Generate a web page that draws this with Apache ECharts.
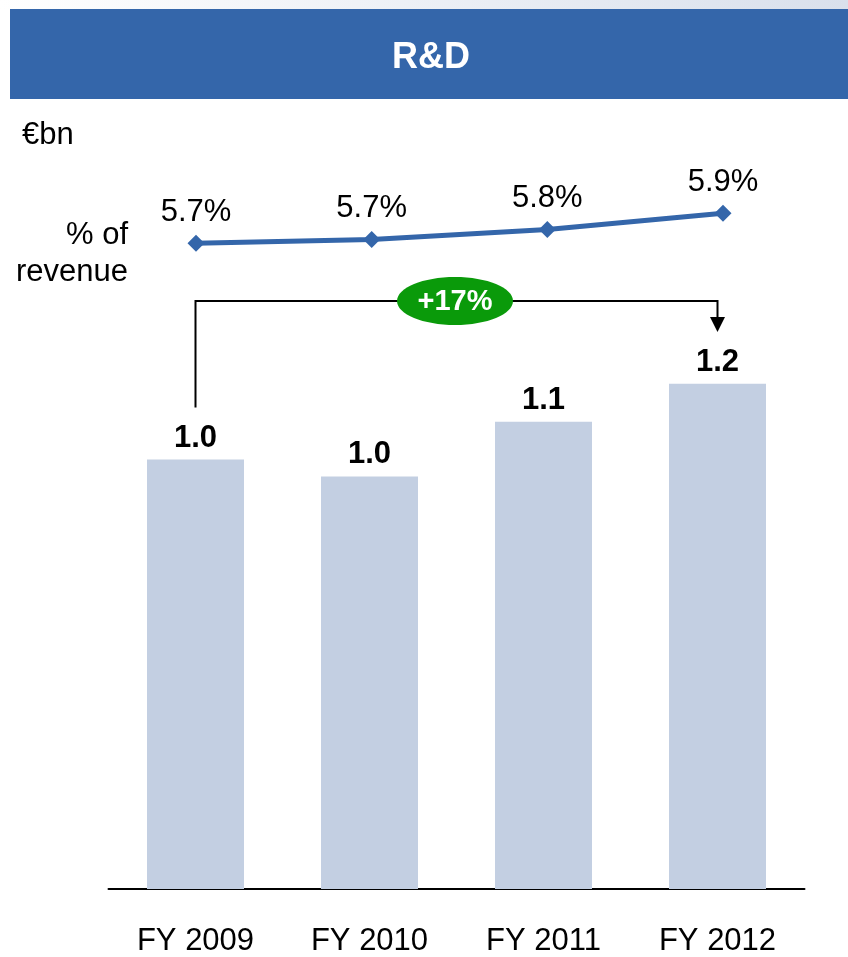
<!DOCTYPE html>
<html><head><meta charset="utf-8">
<script src="https://cdn.jsdelivr.net/npm/echarts@6/dist/echarts.min.js"></script>
<style>html,body{margin:0;padding:0;background:#fff}#c{width:848px;height:957px}</style>
</head><body><div id="c"></div>
<script>
const categories = ['FY 2009', 'FY 2010', 'FY 2011', 'FY 2012'];
const rdSpend = [1.02, 0.98, 1.11, 1.20];
const pctOfRevenue = [5.67, 5.70, 5.78, 5.91];
const growthLabel = '+17%';
const titleText = 'R&D';
const unitText = '€bn';
const lineLabelText = '% of\nrevenue';

const FONT = '"Liberation Sans", Arial, sans-serif';
const BLUE = '#3466AA';

const chart = echarts.init(document.getElementById('c'), null, {renderer: 'canvas'});

const option = {
  animation: false,
  backgroundColor: '#fff',
  textStyle: {fontFamily: FONT},
  grid: [
    {left: 108.5, right: 848 - 804.5, top: 47, bottom: 68, containLabel: false},
    {left: 196, width: 527, top: 177, height: 100, containLabel: false}
  ],
  xAxis: [
    {
      type: 'category', gridIndex: 0, data: categories,
      axisLine: {lineStyle: {color: '#000', width: 2}},
      axisTick: {show: false},
      axisLabel: {color: '#000', fontSize: 31, fontFamily: FONT, margin: 37}
    },
    {
      type: 'category', gridIndex: 1, data: categories, boundaryGap: false,
      show: false
    }
  ],
  yAxis: [
    {type: 'value', gridIndex: 0, min: 0, max: 2, show: false, splitLine: {show: false}},
    {type: 'value', gridIndex: 1, min: 5.4, max: 6.2, show: false, splitLine: {show: false}}
  ],
  series: [
    {
      type: 'bar', xAxisIndex: 0, yAxisIndex: 0, data: rdSpend,
      barWidth: 97,
      itemStyle: {color: '#C3CFE2'},
      label: {
        show: true, position: 'top', distance: 6,
        formatter: p => p.value.toFixed(1),
        color: '#000', fontSize: 31, fontWeight: 'bold', fontFamily: FONT
      }
    },
    {
      type: 'line', xAxisIndex: 1, yAxisIndex: 1, data: pctOfRevenue,
      symbol: 'diamond', symbolSize: 17,
      lineStyle: {color: BLUE, width: 5},
      itemStyle: {color: BLUE},
      label: {
        show: true, position: 'top', distance: 7,
        formatter: p => p.value.toFixed(1) + '%',
        color: '#000', fontSize: 31, fontFamily: FONT
      }
    }
  ]
};
chart.setOption(option);

const x1 = chart.convertToPixel({xAxisIndex: 0}, 0);
const x4 = chart.convertToPixel({xAxisIndex: 0}, 3);
const y1 = chart.convertToPixel({yAxisIndex: 0}, rdSpend[0]);
const yBracket = 301;
const midX = (x1 + x4) / 2;

chart.setOption({
  graphic: [
    {type: 'rect', shape: {x: 0, y: 0, width: 848, height: 9},
     style: {fill: new echarts.graphic.LinearGradient(0, 0, 1, 0, [{offset: 0, color: '#ffffff'}, {offset: 1, color: '#d9e0ec'}])}},
    {type: 'rect', shape: {x: 10, y: 9, width: 838, height: 90}, style: {fill: BLUE}},
    {type: 'text', x: 431, y: 58, style: {text: titleText, fill: '#fff', font: 'bold 36px ' + FONT, textAlign: 'center', textVerticalAlign: 'middle'}},
    {type: 'text', x: 22, y: 135, style: {text: unitText, fill: '#000', font: '31px ' + FONT, textAlign: 'left', textVerticalAlign: 'middle'}},
    {type: 'text', x: 128, y: 254, style: {text: lineLabelText, fill: '#000', font: '31px ' + FONT, textAlign: 'right', textVerticalAlign: 'middle', lineHeight: 37}},
    {type: 'polyline', shape: {points: [[x1, y1 - 52], [x1, yBracket], [x4, yBracket], [x4, 318]]},
     style: {stroke: '#000', lineWidth: 2, fill: null}},
    {type: 'polygon', shape: {points: [[x4 - 7.5, 317], [x4 + 7.5, 317], [x4, 332]]}, style: {fill: '#000'}},
    {type: 'ellipse', shape: {cx: midX - 1.5, cy: yBracket, rx: 58, ry: 24}, style: {fill: '#0A9A0A'}},
    {type: 'text', x: midX - 1.5, y: yBracket + 1, style: {text: growthLabel, fill: '#fff', font: 'bold 29px ' + FONT, textAlign: 'center', textVerticalAlign: 'middle'}}
  ]
});
</script>
</body></html>
